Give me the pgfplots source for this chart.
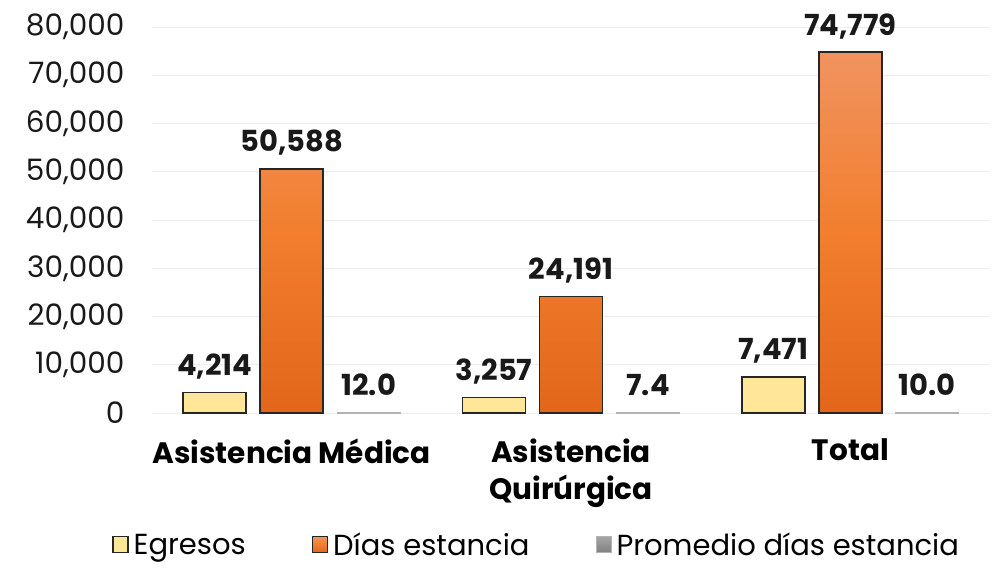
\documentclass[border=0pt]{standalone}
\usepackage{fontspec}
\setmainfont{Poppins}
\usepackage{pgfplots}
\pgfplotsset{compat=1.18}
\definecolor{egr}{HTML}{FFE699}
\definecolor{diaT}{HTML}{F19360}
\definecolor{diaM}{HTML}{F27E2E}
\definecolor{diaB}{HTML}{E2661A}
\definecolor{edge}{HTML}{262626}
\pgfplotsset{/pgf/number format/.cd,1000 sep={,}}
\begin{document}
\begin{tikzpicture}[x=1pt,y=1pt]
\path[use as bounding box] (-152,-154) rectangle (840,413);
\begin{axis}[
  at={(0,0)}, anchor=south west,
  scale only axis, width=838pt, height=386pt,
  xmin=-0.5, xmax=2.5, ymin=0, ymax=80000,
  ybar=14pt, bar width=63pt,
  xtick={0,1,2},
  xticklabels={Asistencia Médica,{Asistencia\\Quirúrgica},Total},
  ytick={0,10000,...,80000},
  scaled y ticks=false,
  /pgf/number format/assume math mode=true,
  major tick length=0pt,
  axis line style={draw=none},
  ymajorgrids, grid style={draw=black!7, line width=0.8pt},
  tick label style={font=\fontsize{29.5}{33}\selectfont},
  xticklabel style={font=\fontsize{29.5}{37}\selectfont\bfseries, align=center, yshift=-22pt},
  yticklabel style={xshift=-24pt, text=black!90},
  nodes near coords,
  every node near coord/.append style={font=\fontsize{29}{32}\selectfont\bfseries, anchor=base, yshift=17pt, text=black!90},
  legend image code/.code={\draw[#1] (0pt,-8pt) rectangle (15pt,8pt);},
  legend style={draw=none, fill=none, at={(0.459,-0.341)}, anchor=center,
    legend columns=3, font=\fontsize{29}{32}\selectfont,
    /tikz/every even column/.append style={column sep=64pt},
    /tikz/every odd column/.append style={column sep=3pt}},
]
\addplot[fill=egr, draw=edge, line width=1.4pt] coordinates {(0,4214) (1,3257) (2,7471)};
\addlegendentry{Egresos}
\addplot[top color=diaT, bottom color=diaB, middle color=diaM, draw=edge, line width=1.4pt] coordinates {(0,50588) (1,24191) (2,74779)};
\addlegendentry{Días estancia}
\addplot[top color=black!35, bottom color=black!50, draw=black!30, line width=1pt,
  nodes near coords={\pgfmathprintnumber[fixed,fixed zerofill,precision=1]{\pgfplotspointmeta}}]
  coordinates {(0,12.0) (1,7.4) (2,10.0)};
\addlegendentry{Promedio días estancia}
\end{axis}
\end{tikzpicture}
\end{document}
